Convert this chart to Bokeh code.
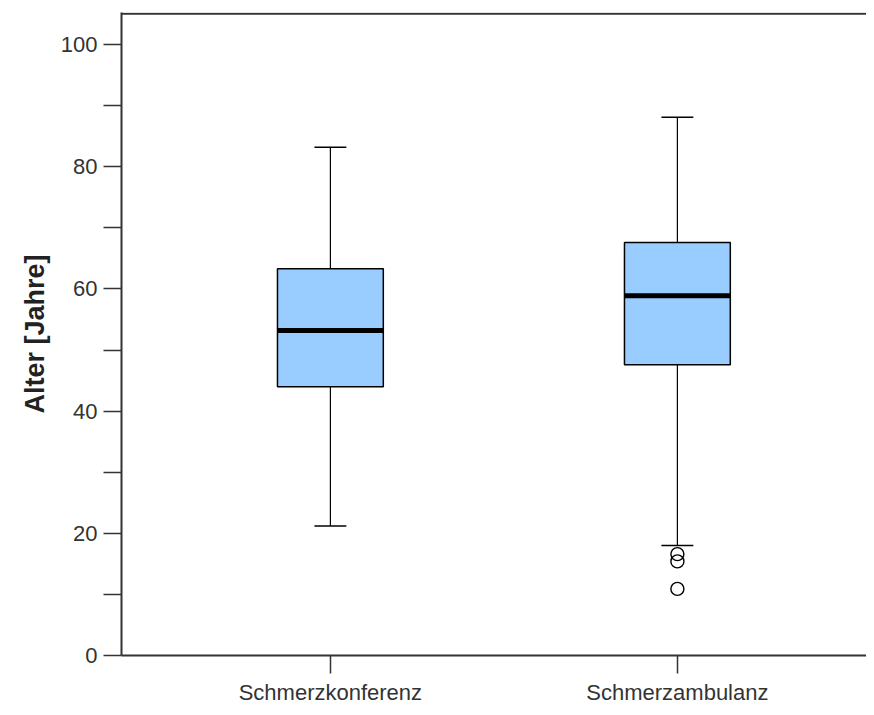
from bokeh.plotting import figure
from bokeh.models import Range1d, FixedTicker, Span
from bokeh.embed import file_html
from bokeh.resources import INLINE

categories = ["Schmerzkonferenz", "Schmerzambulanz"]
positions = [1, 2]
whisker_low = [21.2, 18.0]
q1 = [44.0, 47.6]
median = [53.2, 58.9]
q3 = [63.3, 67.6]
whisker_high = [83.2, 88.1]
outlier_x = [2, 2, 2]
outlier_y = [16.6, 15.4, 10.9]
y_ticks = [0, 20, 40, 60, 80, 100]
y_minor_ticks = [10, 30, 50, 70, 90]

box_w = 0.305
cap_w = 0.092

p = figure(width=866, height=707, output_backend="svg", toolbar_location=None,
           x_range=Range1d(0.398, 2.545), y_range=Range1d(0, 105.24),
           min_border_left=121, min_border_top=12, min_border_bottom=52, min_border_right=0)
p.outline_line_color = None
p.grid.visible = False
p.background_fill_color = "white"

# whiskers
p.segment(x0=positions, y0=q3, x1=positions, y1=whisker_high, line_color="black", line_width=1.2)
p.segment(x0=positions, y0=whisker_low, x1=positions, y1=q1, line_color="black", line_width=1.2)
p.segment(x0=[x - cap_w / 2 for x in positions], y0=whisker_high,
          x1=[x + cap_w / 2 for x in positions], y1=whisker_high, line_color="black", line_width=1.5)
p.segment(x0=[x - cap_w / 2 for x in positions], y0=whisker_low,
          x1=[x + cap_w / 2 for x in positions], y1=whisker_low, line_color="black", line_width=1.5)
# boxes
p.vbar(x=positions, width=box_w, bottom=q1, top=q3, fill_color="#99CCFF",
       line_color="black", line_width=1.5)
# medians
p.segment(x0=[x - box_w / 2 for x in positions], y0=median,
          x1=[x + box_w / 2 for x in positions], y1=median, line_color="black", line_width=5)
# outliers
p.scatter(x=outlier_x, y=outlier_y, marker="circle", size=13, fill_color=None,
          line_color="black", line_width=1.4)

# top frame line
p.add_layout(Span(location=105.05, dimension="width", line_color="#333333", line_width=2))

# y axis
ya = p.yaxis[0]
ya.ticker = FixedTicker(ticks=y_ticks, minor_ticks=y_minor_ticks)
ya.axis_label = "Alter [Jahre]"
ya.axis_label_text_font = "Liberation Sans"
ya.axis_label_text_font_style = "bold"
ya.axis_label_text_font_size = "27px"
ya.axis_label_text_color = "#222222"
ya.axis_label_standoff = 8
ya.major_label_text_font = "Liberation Sans"
ya.major_label_text_font_size = "22px"
ya.major_label_text_color = "#333333"
ya.major_label_standoff = 6
ya.major_tick_out = 18
ya.major_tick_in = 0
ya.minor_tick_out = 18
ya.minor_tick_in = 0
ya.axis_line_width = 2
ya.axis_line_color = "#333333"
ya.major_tick_line_color = "#333333"
ya.minor_tick_line_color = "#333333"
ya.major_tick_line_width = 1.5
ya.minor_tick_line_width = 1.5

# x axis
xa = p.xaxis[0]
xa.ticker = FixedTicker(ticks=positions, minor_ticks=[])
xa.major_label_overrides = {pos: name for pos, name in zip(positions, categories)}
xa.major_label_text_font = "Liberation Sans"
xa.major_label_text_font_size = "22px"
xa.major_label_text_color = "#333333"
xa.major_label_standoff = 6
xa.major_tick_out = 18
xa.major_tick_in = 0
xa.minor_tick_line_color = None
xa.axis_line_width = 2
xa.axis_line_color = "#333333"
xa.major_tick_line_color = "#333333"
xa.major_tick_line_width = 1.5

open("out.html", "w").write(file_html(p, INLINE))
